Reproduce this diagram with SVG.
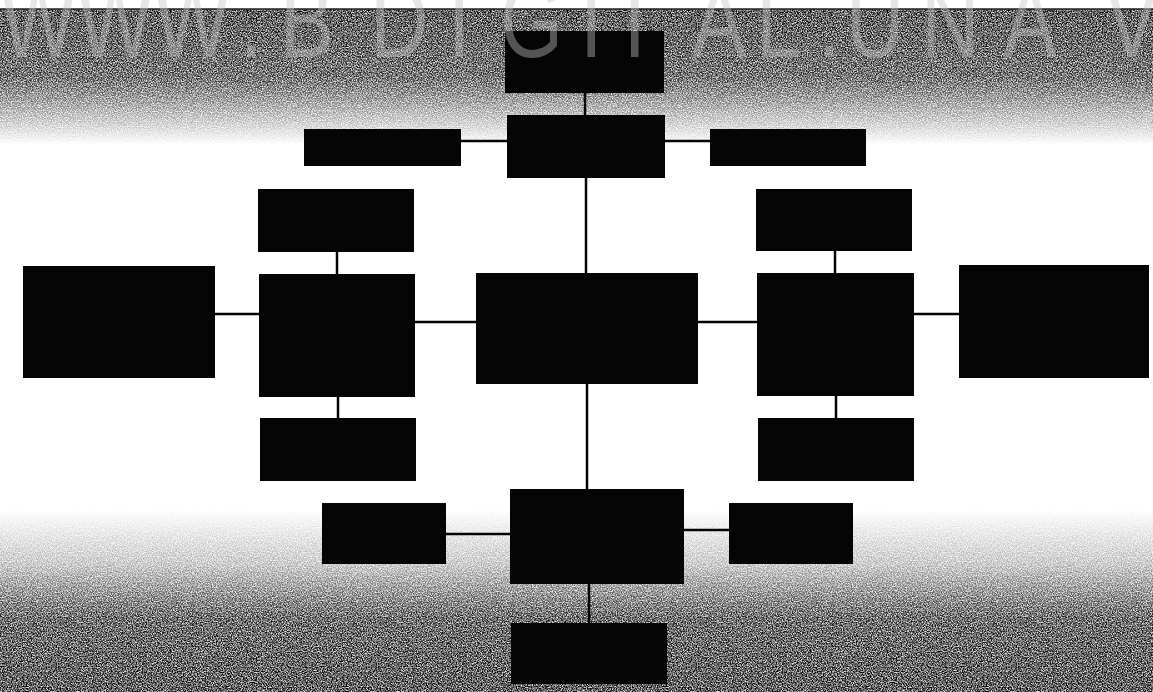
<svg xmlns="http://www.w3.org/2000/svg" width="1153" height="692" viewBox="0 0 1153 692">
<style>
.box{fill:#050505}
.wire{stroke:#050505;stroke-width:2.5;fill:none}
.wm{font-family:"Liberation Sans",Arial,sans-serif;font-size:81px;fill:#c4c4c4;fill-opacity:0.42}
</style>
<defs>
<filter id="grain" x="0" y="0" width="100%" height="100%" filterUnits="userSpaceOnUse">
<feTurbulence type="fractalNoise" baseFrequency="0.8" numOctaves="2" seed="7" result="t"/>
<feColorMatrix in="t" type="matrix" values="0 0 0 0 0  0 0 0 0 0  0 0 0 0 0  2.4 0 0 0 -0.65"/>
</filter>
<linearGradient id="topFade" x1="0" y1="0" x2="0" y2="1">
<stop offset="0" stop-color="#fff" stop-opacity="1"/>
<stop offset="0.5" stop-color="#fff" stop-opacity="0.85"/>
<stop offset="0.78" stop-color="#fff" stop-opacity="0.35"/>
<stop offset="1" stop-color="#fff" stop-opacity="0"/>
</linearGradient>
<linearGradient id="botFade" x1="0" y1="0" x2="0" y2="1">
<stop offset="0" stop-color="#fff" stop-opacity="0"/>
<stop offset="0.3" stop-color="#fff" stop-opacity="0.3"/>
<stop offset="0.6" stop-color="#fff" stop-opacity="0.9"/>
<stop offset="1" stop-color="#fff" stop-opacity="1"/>
</linearGradient>
<mask id="topMask" maskUnits="userSpaceOnUse" x="0" y="0" width="1153" height="692">
<rect x="0" y="9" width="1153" height="136" fill="url(#topFade)"/>
</mask>
<mask id="botMask" maskUnits="userSpaceOnUse" x="0" y="0" width="1153" height="692">
<rect x="0" y="510" width="1153" height="182" fill="url(#botFade)"/>
</mask>
</defs>
<rect x="0" y="0" width="1153" height="692" fill="#ffffff"/>
<g id="texture">
<rect x="0" y="9" width="1153" height="136" fill="#8a8a8a" fill-opacity="0.3" mask="url(#topMask)"/>
<rect x="0" y="9" width="1153" height="136" filter="url(#grain)" mask="url(#topMask)"/>
<rect x="0" y="510" width="1153" height="182" fill="#8a8a8a" fill-opacity="0.3" mask="url(#botMask)"/>
<rect x="0" y="510" width="1153" height="182" filter="url(#grain)" mask="url(#botMask)"/>
<line x1="0" y1="9" x2="1153" y2="9" stroke="#222" stroke-width="1.5"/>
</g>
<g id="connectors" class="wire">
<path d="M585 93 V115"/>
<path d="M461 141 H507"/>
<path d="M665 141 H710"/>
<path d="M586 178 V273"/>
<path d="M337 252 V274"/>
<path d="M215 314 H259"/>
<path d="M338 397 V418"/>
<path d="M415 322 H476"/>
<path d="M698 322 H757"/>
<path d="M835 251 V273"/>
<path d="M914 314 H959"/>
<path d="M836 396 V418"/>
<path d="M587 384 V489"/>
<path d="M446 534 H510"/>
<path d="M684 530 H729"/>
<path d="M589 584 V623"/>
</g>
<g id="n-top"><rect class="box" x="505" y="31" width="159" height="62"/></g>
<g id="n-head"><rect class="box" x="507" y="115" width="158" height="63"/></g>
<g id="n-head-left"><rect class="box" x="304" y="129" width="157" height="37"/></g>
<g id="n-head-right"><rect class="box" x="710" y="129" width="156" height="37"/></g>
<g id="n-left-top"><rect class="box" x="258" y="189" width="156" height="63"/></g>
<g id="n-left"><rect class="box" x="259" y="274" width="156" height="123"/></g>
<g id="n-left-far"><rect class="box" x="23" y="266" width="192" height="112"/></g>
<g id="n-left-bottom"><rect class="box" x="260" y="418" width="156" height="63"/></g>
<g id="n-center"><rect class="box" x="476" y="273" width="222" height="111"/></g>
<g id="n-right-top"><rect class="box" x="756" y="189" width="156" height="62"/></g>
<g id="n-right"><rect class="box" x="757" y="273" width="157" height="123"/></g>
<g id="n-right-far"><rect class="box" x="959" y="265" width="190" height="113"/></g>
<g id="n-right-bottom"><rect class="box" x="758" y="418" width="156" height="63"/></g>
<g id="n-foot"><rect class="box" x="510" y="489" width="174" height="95"/></g>
<g id="n-foot-left"><rect class="box" x="322" y="503" width="124" height="61"/></g>
<g id="n-foot-right"><rect class="box" x="729" y="503" width="124" height="61"/></g>
<g id="n-bottom"><rect class="box" x="511" y="623" width="156" height="61"/></g>
<g id="watermark" transform="translate(0 57) scale(1 1.3) translate(0 -57)">
<text class="wm" x="0 77 154 240 280 370 448 500 580 610 692 756 818 846 921 1003 1105" y="57">WWW.BDIGITAL.UNAV</text>
</g>
</svg>
